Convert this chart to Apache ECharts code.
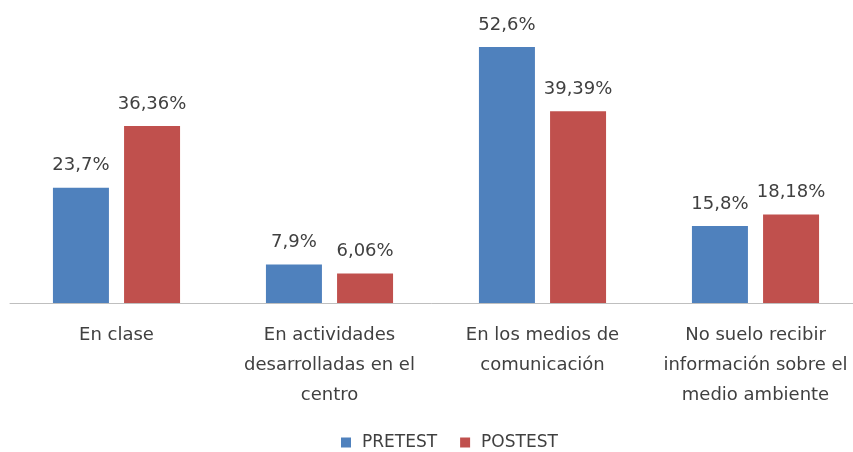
<!DOCTYPE html>
<html>
<head>
<meta charset="utf-8">
<script src="https://cdn.jsdelivr.net/npm/echarts@6/dist/echarts.min.js"></script>
<style>
  html, body { margin: 0; padding: 0; background: #fff; }
  #chart { width: 853px; height: 452px; }
</style>
</head>
<body>
<div id="chart"></div>
<script>
const CATEGORIES = [
  "En clase",
  "En actividades\ndesarrolladas en el\ncentro",
  "En los medios de\ncomunicación",
  "No suelo recibir\ninformación sobre el\nmedio ambiente",
];
const PRETEST = [23.7, 7.9, 52.6, 15.8];
const POSTEST = [36.36, 6.06, 39.39, 18.18];

const TEXT = "#404040";
const FONT = "DejaVu Sans";

const fmt = (p) => String(p.value).replace(".", ",") + "%";

const barLabel = {
  show: true,
  position: "top",
  distance: 13,
  color: TEXT,
  fontFamily: FONT,
  fontSize: 18,
  formatter: fmt,
};

const chart = echarts.init(document.getElementById("chart"), null, { renderer: "canvas" });

chart.setOption({
  backgroundColor: "#fff",
  animation: false,
  grid: { left: 10, right: -9, top: 11, bottom: 149, outerBoundsMode: "none" },
  legend: {
    data: ["PRETEST", "POSTEST"],
    top: 429,
    left: 336,
    icon: "rect",
    itemWidth: 10,
    itemHeight: 10,
    itemGap: 23,
    textStyle: { color: TEXT, fontFamily: FONT, fontSize: 17, padding: [0, 0, 0, 6] },
  },
  xAxis: {
    type: "category",
    data: CATEGORIES,
    axisLine: { lineStyle: { color: "#bfbfbf", width: 1 } },
    axisTick: { show: false },
    axisLabel: {
      color: TEXT,
      fontFamily: FONT,
      fontSize: 18,
      lineHeight: 30,
      margin: 17,
      interval: 0,
      align: "center",
    },
  },
  yAxis: {
    type: "value",
    min: 0,
    max: 60,
    show: false,
    splitLine: { show: false },
  },
  series: [
    {
      name: "PRETEST",
      type: "bar",
      data: PRETEST,
      barWidth: 56,
      barGap: "27%",
      itemStyle: { color: "#4f81bd" },
      label: barLabel,
    },
    {
      name: "POSTEST",
      type: "bar",
      data: POSTEST,
      barWidth: 56,
      itemStyle: { color: "#c0504d" },
      label: barLabel,
    },
  ],
});
</script>
</body>
</html>
